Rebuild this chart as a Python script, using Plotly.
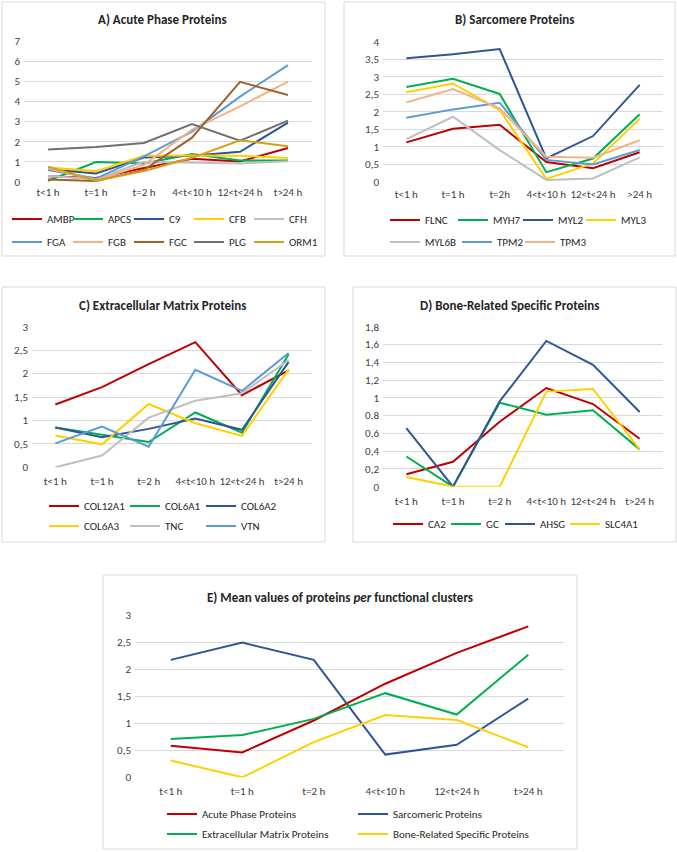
import plotly.graph_objects as go

W, H = 677, 852

# ---------------- data ----------------
cats_a = ["t<1 h", "t=1 h", "t=2 h", "4<t<10 h", "12<t<24 h", "t>24 h"]
cats_b = ["t<1 h", "t=1 h", "t=2h", "4<t<10 h", "12<t<24 h", ">24 h"]
cats_c = ["t<1 h", "t=1 h", "t=2 h", "4<t<10 h", "12<t<24 h", "t>24 h"]
cats_d = ["t<1 h", "t=1 h", "t=2 h", "4<t<10 h", "12<t<24 h", "t>24 h"]
cats_e = ["t<1 h", "t=1 h", "t=2 h", "4<t<10 h", "12<t<24 h", "t>24 h"]

ambp = [0.28, 0.2, 0.7, 1.15, 1.02, 1.69]
apcs = [0.06, 0.99, 0.92, 1.39, 1.07, 1.07]
c9 = [0.63, 0.42, 1.22, 1.3, 1.5, 2.95]
cfb = [0.72, 0.54, 1.3, 1.32, 1.3, 1.19]
cfh = [0.3, 0.15, 1.0, 0.95, 0.92, 1.03]
fga = [0.6, 0.17, 1.27, 2.5, 4.24, 5.8]
fgb = [0.68, 0.1, 0.85, 2.6, 3.75, 4.98]
fgc = [0.12, 0.05, 0.6, 2.2, 4.97, 4.32]
plg = [1.61, 1.74, 1.94, 2.88, 2.05, 3.05]
orm1 = [0.76, 0.06, 0.55, 1.2, 2.07, 1.78]

flnc = [1.13, 1.52, 1.63, 0.57, 0.39, 0.85]
myh7 = [2.71, 2.94, 2.51, 0.28, 0.67, 1.93]
myl2 = [3.53, 3.64, 3.79, 0.67, 1.31, 2.77]
myl3 = [2.56, 2.81, 2.05, 0.09, 0.53, 1.8]
myl6b = [1.22, 1.86, 0.91, 0.06, 0.1, 0.7]
tpm2 = [1.83, 2.07, 2.26, 0.63, 0.5, 0.91]
tpm3 = [2.27, 2.65, 2.1, 0.72, 0.69, 1.19]

col12a1 = [1.34, 1.71, 2.2, 2.67, 1.54, 2.07]
col6a1 = [0.85, 0.69, 0.54, 1.17, 0.74, 2.41]
col6a2 = [0.85, 0.64, 0.82, 1.04, 0.8, 2.25]
col6a3 = [0.68, 0.49, 1.35, 0.94, 0.67, 2.09]
tnc = [0.0, 0.25, 1.06, 1.42, 1.58, 2.29]
vtn = [0.51, 0.87, 0.44, 2.08, 1.63, 2.44]

ca2 = [0.14, 0.28, 0.73, 1.11, 0.93, 0.54]
gc = [0.34, 0.0, 0.945, 0.81, 0.86, 0.42]
ahsg = [0.66, 0.0, 0.96, 1.64, 1.37, 0.84]
slc4a1 = [0.11, 0.0, 0.0, 1.07, 1.1, 0.42]

acute = [0.585, 0.46, 1.05, 1.73, 2.3, 2.79]
sarco = [2.17, 2.49, 2.17, 0.42, 0.6, 1.455]
ecm = [0.71, 0.78, 1.08, 1.555, 1.16, 2.265]
bone = [0.31, 0.0, 0.65, 1.15, 1.06, 0.555]

# ---------------- style ----------------
RED = "#C00000"
GREEN = "#00B050"
BLUE = "#2F5597"
YELLOW = "#FFD000"
LGRAY = "#BFBFBF"
LBLUE = "#5B9BD5"
PEACH = "#F4B183"
BROWN = "#A5602A"
DGRAY = "#707070"
GOLD = "#D4A017"
GRID = "#D9D9D9"
FONT = "Carlito, Lato, sans-serif"
TXT = "#404040"


def px_x(v):
    return v / W


def px_y(v):
    return 1 - v / H


fig = go.Figure()

# (axis suffix, cats, [(name, values, colour, legend text x px, legend row y px)])
panels = [
    ("", cats_a, [("AMBP", ambp, RED, 47, 219), ("APCS", apcs, GREEN, 108, 219),
                  ("C9", c9, BLUE, 169, 219), ("CFB", cfb, YELLOW, 229, 219),
                  ("CFH", cfh, LGRAY, 289, 219), ("FGA", fga, LBLUE, 47, 242),
                  ("FGB", fgb, PEACH, 108, 242), ("FGC", fgc, BROWN, 169, 242),
                  ("PLG", plg, DGRAY, 229, 242), ("ORM1", orm1, GOLD, 289, 242)]),
    ("2", cats_b, [("FLNC", flnc, RED, 425, 220), ("MYH7", myh7, GREEN, 493, 220),
                   ("MYL2", myl2, BLUE, 558, 220), ("MYL3", myl3, YELLOW, 621, 220),
                   ("MYL6B", myl6b, LGRAY, 425, 242), ("TPM2", tpm2, LBLUE, 497, 242),
                   ("TPM3", tpm3, PEACH, 560, 242)]),
    ("3", cats_c, [("COL12A1", col12a1, RED, 84, 506), ("COL6A1", col6a1, GREEN, 165, 506),
                   ("COL6A2", col6a2, BLUE, 241, 506), ("COL6A3", col6a3, YELLOW, 84, 526),
                   ("TNC", tnc, LGRAY, 165, 526), ("VTN", vtn, LBLUE, 241, 526)]),
    ("4", cats_d, [("CA2", ca2, RED, 428, 524), ("GC", gc, GREEN, 486, 524),
                   ("AHSG", ahsg, BLUE, 540, 524), ("SLC4A1", slc4a1, YELLOW, 605, 524)]),
    ("5", cats_e, [("Acute Phase Proteins", acute, RED, 202, 814),
                   ("Sarcomeric Proteins", sarco, BLUE, 393, 814),
                   ("Extracellular Matrix Proteins", ecm, GREEN, 202, 834),
                   ("Bone-Related Specific Proteins", bone, YELLOW, 393, 834)]),
]

layout = dict(
    width=W, height=H, margin=dict(l=0, r=0, t=0, b=0, autoexpand=False),
    paper_bgcolor="white", plot_bgcolor="white",
    separators=", ",
    font=dict(family=FONT, size=11, color=TXT),
    showlegend=True,
)

k = 0
for suf, cats, series in panels:
    for name, vals, color, tx, ty in series:
        k += 1
        leg = "legend" if k == 1 else "legend%d" % k
        fig.add_trace(go.Scatter(
            x=cats, y=vals, name=name, mode="lines",
            line=dict(color=color, width=2),
            xaxis="x" + suf, yaxis="y" + suf, legend=leg,
        ))
        layout[leg] = dict(
            orientation="h", x=px_x(tx - 40), y=px_y(ty),
            xanchor="left", yanchor="middle", xref="paper", yref="paper",
            bgcolor="rgba(0,0,0,0)", borderwidth=0,
            font=dict(family=FONT, size=11, color="#262626"),
            itemclick=False, itemdoubleclick=False,
        )

# plot-area pixel boxes: x0, x1, ytop, ybottom, ymax, dtick, x-label standoff
areas = {
    "": (24, 312, 41, 182, 7, 1, 2),
    "2": (383, 663, 41.7, 182, 4, 0.5, 4),
    "3": (32, 312, 326.7, 467.3, 3, 0.5, 6),
    "4": (383, 663, 326.7, 486.7, 1.8, 0.2, 6),
    "5": (135, 564, 615, 777.3, 3, 0.5, 6),
}

for suf, (x0, x1, y0, y1, ymax, dt, xs) in areas.items():
    layout["xaxis" + suf] = dict(
        domain=[px_x(x0), px_x(x1)], anchor="y" + suf,
        type="category", range=[-0.5, 5.5],
        showgrid=False, showline=False, zeroline=False, ticks="",
        tickangle=0, ticklabelstandoff=xs,
        tickfont=dict(family=FONT, size=11, color=TXT),
        fixedrange=True,
    )
    layout["yaxis" + suf] = dict(
        domain=[px_y(y1), px_y(y0)], anchor="x" + suf,
        range=[0, ymax], dtick=dt, tick0=0,
        showgrid=True, gridcolor=GRID, gridwidth=1,
        zeroline=False, showline=False, ticks="",
        ticklabelstandoff=3,
        tickfont=dict(family=FONT, size=11, color=TXT),
        fixedrange=True,
    )

boxes = [(2, 2, 325, 256), (344, 2, 675, 256), (2, 287, 325, 542),
         (353, 287, 676, 542), (103, 575, 577, 849)]
layout["shapes"] = [
    dict(type="rect", xref="paper", yref="paper",
         x0=px_x(x0), x1=px_x(x1), y0=px_y(y1), y1=px_y(y0),
         line=dict(color=GRID, width=1), fillcolor="rgba(0,0,0,0)", layer="below")
    for x0, y0, x1, y1 in boxes
]

titles = [
    ("<b>A) Acute Phase Proteins</b>", 162, 19),
    ("<b>B) Sarcomere Proteins</b>", 514, 19),
    ("<b>C) Extracellular Matrix Proteins</b>", 162.5, 305),
    ("<b>D) Bone-Related Specific Proteins</b>", 510, 305),
    ("<b>E) Mean values of proteins <i>per</i> functional clusters</b>", 340, 597),
]
layout["annotations"] = [
    dict(text=t, x=px_x(x), y=px_y(y), xref="paper", yref="paper",
         xanchor="center", yanchor="middle", showarrow=False,
         font=dict(family=FONT, size=13, color="#262626"))
    for t, x, y in titles
]

fig.update_layout(**layout)
fig.write_html("out.html")
